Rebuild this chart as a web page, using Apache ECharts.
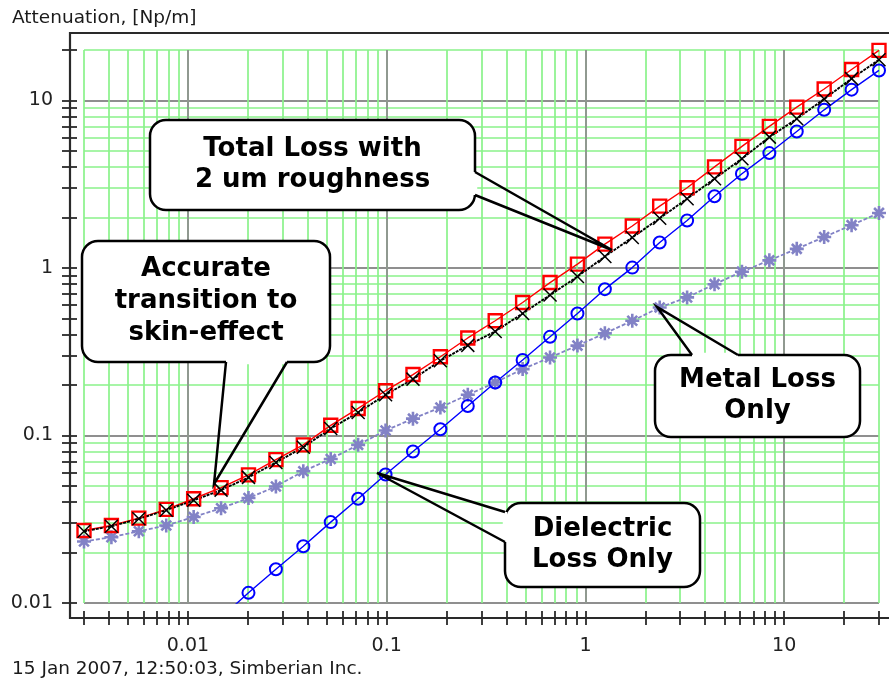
<!DOCTYPE html>
<html>
<head>
<meta charset="utf-8">
<script src="https://cdn.jsdelivr.net/npm/echarts@6/dist/echarts.min.js"></script>
<style>
  html, body { margin: 0; padding: 0; background: #fff; }
  #chart { width: 889px; height: 682px; }
</style>
</head>
<body>
<div id="chart"></div>
<script>
// Frequency sweep, GHz (log-spaced points)
const frequency = [0.003, 0.004121, 0.005662, 0.007779, 0.010687, 0.014682, 0.020171, 0.027712,
  0.038071, 0.052302, 0.071855, 0.098716, 0.13562, 0.18631, 0.25596, 0.35165, 0.48310, 0.66369,
  0.91180, 1.2527, 1.7210, 2.3643, 3.2482, 4.4625, 6.1307, 8.4224, 11.571, 15.896, 21.838, 30.0];

// Attenuation, Np/m
const totalLossRough = [0.0271, 0.0290, 0.0321, 0.0362, 0.0419, 0.0488, 0.0582, 0.0718, 0.0879, 0.115,
  0.145, 0.185, 0.231, 0.295, 0.382, 0.484, 0.622, 0.818, 1.054, 1.387,
  1.78, 2.34, 3.01, 4.01, 5.32, 7.00, 9.12, 11.7, 15.3, 19.9];
const totalLossSmooth = [0.0268, 0.0287, 0.0318, 0.0358, 0.0410, 0.0472, 0.0562, 0.0690, 0.0851, 0.110,
  0.137, 0.175, 0.217, 0.279, 0.345, 0.418, 0.535, 0.689, 0.889, 1.17,
  1.52, 1.98, 2.59, 3.41, 4.49, 6.04, 7.77, 10.2, 13.5, 17.5];
const metalLoss = [0.0233, 0.0247, 0.0268, 0.0290, 0.0326, 0.0368, 0.0423, 0.0496, 0.0612, 0.0724,
  0.0879, 0.107, 0.126, 0.147, 0.175, 0.207, 0.249, 0.292, 0.344, 0.407,
  0.484, 0.581, 0.667, 0.80, 0.95, 1.11, 1.30, 1.53, 1.80, 2.13];
const dielectricLoss = [null, null, null, null, null, 0.0082, 0.0115, 0.0159, 0.0218, 0.0304,
  0.0419, 0.0585, 0.0802, 0.109, 0.150, 0.207, 0.282, 0.388, 0.535, 0.747,
  1.005, 1.42, 1.92, 2.68, 3.65, 4.85, 6.53, 8.79, 11.6, 15.1];

// Axis ticks
const xMinorTicks = [0.003, 0.004, 0.005, 0.006, 0.007, 0.008, 0.009,
  0.01, 0.02, 0.03, 0.04, 0.05, 0.06, 0.07, 0.08, 0.09,
  0.1, 0.2, 0.3, 0.4, 0.5, 0.6, 0.7, 0.8, 0.9,
  1, 2, 3, 4, 5, 6, 7, 8, 9,
  10, 20, 30];
const xMajorTicks = [0.01, 0.1, 1, 10];
const yMinorTicks = [0.01, 0.02, 0.03, 0.04, 0.05, 0.06, 0.07, 0.08, 0.09,
  0.1, 0.2, 0.3, 0.4, 0.5, 0.6, 0.7, 0.8, 0.9,
  1, 2, 3, 4, 5, 6, 7, 8, 9,
  10, 20];
const yMajorTicks = [0.01, 0.1, 1, 10];

const TEXT_FONT = '"DejaVu Sans", Verdana, sans-serif';
const GRID_GREEN = '#8af28a';
const GRID_GRAY = '#8f8f8f';
const AXIS_DARK = '#2a2a2a';

function pairs(ys) {
  const out = [];
  ys.forEach((y, i) => { if (y != null) out.push([frequency[i], y]); });
  return out;
}

function logAxis(range, extra) {
  return Object.assign({
    type: 'log', logBase: 10, min: range[0], max: range[1],
    axisLine: { show: false },
    axisTick: { show: false },
    axisLabel: { show: false },
    splitLine: { show: false },
    minorTick: { show: false },
    minorSplitLine: { show: false }
  }, extra);
}

const tickStyle = { color: AXIS_DARK, width: 1.8 };
const labelStyle = { color: '#222', fontSize: 19, fontFamily: TEXT_FONT };
const fmt = v => String(+v.toPrecision(3));

const xRange = [0.003, 30];
const yRange = [0.01, 20];

const xAxes = [
  // light grid at every 1..9 step, ticks below the axis line
  logAxis(xRange, { position: 'bottom', offset: 15,
    axisTick: { show: true, customValues: xMinorTicks, inside: false, length: 7, lineStyle: tickStyle },
    splitLine: { show: true, lineStyle: { color: GRID_GREEN, width: 1.7 } } }),
  // tick halves above the axis line
  logAxis(xRange, { position: 'bottom', offset: 15,
    axisTick: { show: true, customValues: xMinorTicks, inside: true, length: 7, lineStyle: tickStyle } }),
  // decade grid and labels
  logAxis(xRange, { position: 'bottom', offset: 15,
    axisTick: { show: false, customValues: xMajorTicks },
    axisLabel: { show: true, customValues: xMajorTicks, margin: 19, formatter: fmt, ...labelStyle },
    splitLine: { show: true, lineStyle: { color: GRID_GRAY, width: 1.8 } } })
];

const yAxes = [
  logAxis(yRange, { position: 'left', offset: 14,
    axisTick: { show: true, customValues: yMinorTicks, inside: false, length: 8, lineStyle: tickStyle },
    splitLine: { show: true, lineStyle: { color: GRID_GREEN, width: 1.7 } } }),
  logAxis(yRange, { position: 'left', offset: 14,
    axisTick: { show: true, customValues: yMinorTicks, inside: true, length: 7, lineStyle: tickStyle } }),
  logAxis(yRange, { position: 'left', offset: 14,
    axisTick: { show: false, customValues: yMajorTicks },
    axisLabel: { show: true, customValues: yMajorTicks, margin: 17, formatter: fmt, ...labelStyle },
    splitLine: { show: true, lineStyle: { color: GRID_GRAY, width: 1.8 } } })
];

const series = [
  {
    name: 'Metal Loss Only', type: 'line', data: pairs(metalLoss),
    symbol: 'path://M5,0L5,10M0,5L10,5M1.5,1.5L8.5,8.5M8.5,1.5L1.5,8.5', symbolSize: 14,
    lineStyle: { color: '#8282c6', width: 1.8, type: [4, 2] },
    itemStyle: { color: 'transparent', borderColor: '#8282c6', borderWidth: 2.6 }
  },
  {
    name: 'Dielectric Loss Only', type: 'line', data: pairs(dielectricLoss),
    symbol: 'circle', symbolSize: 12,
    lineStyle: { color: '#0000ff', width: 1.4 },
    itemStyle: { color: 'transparent', borderColor: '#0000ff', borderWidth: 2 }
  },
  {
    name: 'Total Loss with 2 um roughness', type: 'line', data: pairs(totalLossRough),
    symbol: 'rect', symbolSize: 13,
    lineStyle: { color: '#ff0000', width: 1.4 },
    itemStyle: { color: 'transparent', borderColor: '#ff0000', borderWidth: 2.4 }
  },
  {
    name: 'Total Loss', type: 'line', data: pairs(totalLossSmooth),
    symbol: 'path://M0,0L10,10M10,0L0,10', symbolSize: 13,
    lineStyle: { color: '#000000', width: 1.9, type: [3, 1] },
    itemStyle: { color: 'transparent', borderColor: '#000000', borderWidth: 1.5 }
  }
].map(s => Object.assign({ xAxisIndex: 0, yAxisIndex: 0, animation: false, clip: true, showAllSymbol: true }, s));

// Rounded callout box with a two-line pointer leaving one of its edges
function callout(box, base, tip, lines, lineGap) {
  const [x, y, w, h] = box;
  const els = [];
  els.push({ type: 'rect', z: 100, shape: { x, y, width: w, height: h, r: 16 },
    style: { fill: '#fff', stroke: '#000', lineWidth: 2.5 } });
  els.push({ type: 'line', z: 101, shape: { x1: base[0][0], y1: base[0][1], x2: base[1][0], y2: base[1][1] },
    style: { stroke: '#fff', lineWidth: 4.5 } });
  els.push({ type: 'polyline', z: 102, shape: { points: [base[0], tip, base[1]] },
    style: { stroke: '#000', lineWidth: 2.5, fill: null } });
  const cx = x + w / 2;
  const cy = y + h / 2;
  lines.forEach((t, i) => {
    els.push({ type: 'text', z: 103, x: cx, y: cy + (i - (lines.length - 1) / 2) * lineGap,
      style: { text: t, font: 'bold 26px ' + TEXT_FONT, fill: '#000', align: 'center', verticalAlign: 'middle' } });
  });
  return els;
}

const frame = [
  { type: 'line', z: 50, shape: { x1: 69, y1: 33, x2: 889, y2: 33 }, style: { stroke: AXIS_DARK, lineWidth: 2.2 } },
  { type: 'line', z: 50, shape: { x1: 70, y1: 32, x2: 70, y2: 619 }, style: { stroke: AXIS_DARK, lineWidth: 2.2 } },
  { type: 'line', z: 50, shape: { x1: 69, y1: 618, x2: 889, y2: 618 }, style: { stroke: AXIS_DARK, lineWidth: 2.2 } },
  { type: 'text', z: 50, x: 12, y: 9, style: { text: 'Attenuation, [Np/m]', font: '18.5px ' + TEXT_FONT, fill: '#1a1a1a' } },
  { type: 'text', z: 50, x: 12, y: 660, style: { text: '15 Jan 2007, 12:50:03, Simberian Inc.', font: '18.5px ' + TEXT_FONT, fill: '#1a1a1a' } }
];

const notes = [].concat(
  callout([150, 120, 325, 90], [[475, 172], [475, 195]], [612, 250], ['Total Loss with', '2 um roughness'], 31),
  callout([82, 241, 248, 121], [[226, 362], [287, 362]], [214, 484], ['Accurate', 'transition to', 'skin-effect'], 32),
  callout([655, 355, 205, 82], [[692, 355], [738, 355]], [657, 307], ['Metal Loss', 'Only'], 31),
  callout([505, 503, 195, 84], [[505, 512], [505, 542]], [377, 473], ['Dielectric', 'Loss Only'], 31)
);

const chart = echarts.init(document.getElementById('chart'), null, { renderer: 'canvas' });
chart.setOption({
  animation: false,
  backgroundColor: '#ffffff',
  grid: { left: 84, right: 10, top: 50, bottom: 79, containLabel: false },
  xAxis: xAxes,
  yAxis: yAxes,
  series: series,
  graphic: { elements: frame.concat(notes) }
});
</script>
</body>
</html>
